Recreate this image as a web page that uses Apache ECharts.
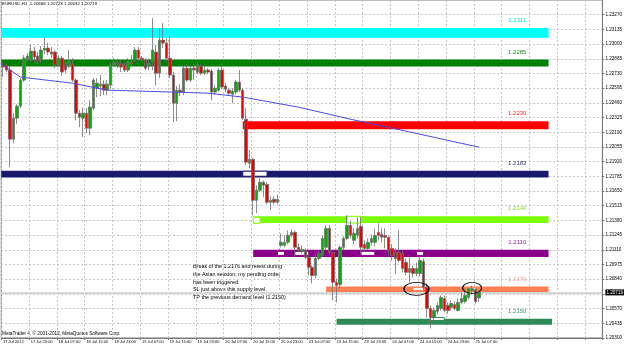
<!DOCTYPE html>
<html>
<head>
<meta charset="utf-8">
<title>EURUSD,H1</title>
<script src="https://cdn.jsdelivr.net/npm/echarts@6/dist/echarts.min.js"></script>
<style>
html, body { margin: 0; padding: 0; background: #fff; }
#chart { width: 625px; height: 345px; }
</style>
</head>
<body>
<div id="chart"></div>
<script>
const symbolName = 'EURUSD,H1'
const timeLabels = ['17 Jul 2012', '17 Jul 23:00', '18 Jul 07:00', '18 Jul 15:00', '18 Jul 23:00',
    '19 Jul 07:00', '19 Jul 15:00', '19 Jul 23:00', '20 Jul 07:00', '20 Jul 15:00', '20 Jul 23:00',
    '23 Jul 07:00', '23 Jul 15:00', '23 Jul 23:00', '24 Jul 07:00', '24 Jul 15:00', '24 Jul 23:00',
    '25 Jul 07:00']
const barsPerLabel = 8
const slotCount = 173

// H1 bars: [open, close, low, high]
const candles = [
    [1.22798, 1.22789, 1.22697, 1.22835], [1.22807, 1.22761, 1.22743, 1.22825], [1.22761, 1.22126, 1.21869, 1.22798], [1.22126, 1.22319, 1.22089, 1.22365],
    [1.22319, 1.22430, 1.22264, 1.22448], [1.22430, 1.22669, 1.22411, 1.22687], [1.22669, 1.22871, 1.22651, 1.22899], [1.22853, 1.22890, 1.22835, 1.22917],
    [1.22853, 1.22936, 1.22835, 1.22991], [1.22936, 1.22881, 1.22835, 1.22973], [1.22890, 1.22835, 1.22816, 1.22927], [1.22853, 1.22945, 1.22825, 1.22982],
    [1.22945, 1.22963, 1.22908, 1.23055], [1.22963, 1.22927, 1.22899, 1.23009], [1.22927, 1.22908, 1.22871, 1.22973], [1.22927, 1.22807, 1.22779, 1.22945],
    [1.22807, 1.22871, 1.22789, 1.22899], [1.22871, 1.22743, 1.22706, 1.22890], [1.22825, 1.22761, 1.22733, 1.22853], [1.22798, 1.22844, 1.22779, 1.22945],
    [1.22816, 1.22669, 1.22651, 1.22871], [1.22669, 1.22365, 1.22301, 1.22687], [1.22365, 1.22329, 1.22237, 1.22393], [1.22319, 1.22365, 1.22145, 1.22421],
    [1.22365, 1.22227, 1.22181, 1.22411], [1.22227, 1.22421, 1.22163, 1.22485], [1.22411, 1.22669, 1.22393, 1.22687], [1.22595, 1.22641, 1.22513, 1.22687],
    [1.22614, 1.22632, 1.22522, 1.22715], [1.22632, 1.22577, 1.22531, 1.22669], [1.22577, 1.22632, 1.22531, 1.22669], [1.22623, 1.22807, 1.22595, 1.22835],
    [1.22807, 1.22835, 1.22789, 1.22871], [1.22835, 1.22807, 1.22779, 1.22862], [1.22816, 1.22789, 1.22743, 1.22853], [1.22807, 1.22761, 1.22743, 1.22835],
    [1.22761, 1.22835, 1.22743, 1.22871], [1.22835, 1.22816, 1.22798, 1.22899], [1.22853, 1.22945, 1.22835, 1.22973], [1.22945, 1.22871, 1.22844, 1.22973],
    [1.22871, 1.22853, 1.22835, 1.22890], [1.22853, 1.22779, 1.22761, 1.22871], [1.22798, 1.22825, 1.22761, 1.22871], [1.22835, 1.22945, 1.22761, 1.23239],
    [1.22927, 1.22733, 1.22623, 1.22991], [1.22733, 1.23037, 1.22687, 1.23147], [1.23037, 1.23009, 1.22963, 1.23193], [1.23009, 1.22871, 1.22835, 1.23055],
    [1.22871, 1.22715, 1.22687, 1.23074], [1.22715, 1.22457, 1.22283, 1.22743], [1.22457, 1.22577, 1.22292, 1.22614], [1.22577, 1.22559, 1.22522, 1.22632],
    [1.22559, 1.22779, 1.22531, 1.22798], [1.22779, 1.22669, 1.22651, 1.22816], [1.22669, 1.22779, 1.22651, 1.22798], [1.22779, 1.22761, 1.22669, 1.22816],
    [1.22743, 1.22807, 1.22724, 1.22835], [1.22798, 1.22733, 1.22715, 1.22816], [1.22733, 1.22761, 1.22715, 1.22798], [1.22761, 1.22743, 1.22724, 1.22779],
    [1.22752, 1.22559, 1.22485, 1.22770], [1.22559, 1.22595, 1.22531, 1.22623], [1.22577, 1.22761, 1.22559, 1.22779], [1.22761, 1.22605, 1.22586, 1.22825],
    [1.22614, 1.22586, 1.22559, 1.22641], [1.22577, 1.22549, 1.22531, 1.22595], [1.22540, 1.22568, 1.22457, 1.22595], [1.22559, 1.22651, 1.22540, 1.22669],
    [1.22651, 1.22577, 1.22559, 1.22761], [1.22577, 1.22319, 1.22301, 1.22595], [1.22310, 1.21915, 1.21887, 1.22411], [1.21905, 1.21942, 1.21859, 1.22025],
    [1.21942, 1.21565, 1.21427, 1.21951], [1.21565, 1.21657, 1.21445, 1.21703], [1.21657, 1.21731, 1.21639, 1.21767], [1.21731, 1.21703, 1.21593, 1.21749],
    [1.21712, 1.21547, 1.21528, 1.21731], [1.21547, 1.21565, 1.21473, 1.21602], [1.21574, 1.21547, 1.21528, 1.21602], [1.21547, 1.21574, 1.21528, 1.21620],
    [1.21151, 1.21179, 1.21133, 1.21261], [1.21151, 1.21179, 1.21133, 1.21243], [1.21179, 1.21243, 1.21160, 1.21289], [1.21243, 1.21271, 1.21225, 1.21298],
    [1.21271, 1.21133, 1.21041, 1.21289], [1.21133, 1.21114, 1.21087, 1.21169], [1.21096, 1.21114, 1.21077, 1.21151], [1.21105, 1.21041, 1.21022, 1.21123],
    [1.21041, 1.20949, 1.20875, 1.21059], [1.20949, 1.20875, 1.20801, 1.20967], [1.20875, 1.21031, 1.20847, 1.21077], [1.21031, 1.21077, 1.21013, 1.21105],
    [1.21059, 1.21215, 1.21041, 1.21243], [1.21133, 1.21307, 1.21114, 1.21335], [1.21307, 1.21087, 1.21059, 1.21335], [1.21087, 1.20811, 1.20645, 1.21087],
    [1.20811, 1.20783, 1.20627, 1.20847], [1.20792, 1.21133, 1.20755, 1.21151], [1.21133, 1.21215, 1.21105, 1.21234], [1.21215, 1.21335, 1.21197, 1.21427],
    [1.21335, 1.21243, 1.21215, 1.21381], [1.21197, 1.21261, 1.21160, 1.21307], [1.21243, 1.21307, 1.21215, 1.21409], [1.21326, 1.21133, 1.21077, 1.21409],
    [1.21160, 1.21123, 1.21087, 1.21197], [1.21123, 1.21179, 1.21105, 1.21215], [1.21179, 1.21215, 1.21151, 1.21252], [1.21179, 1.21243, 1.21142, 1.21307],
    [1.21271, 1.21243, 1.21197, 1.21353], [1.21252, 1.21225, 1.21179, 1.21307], [1.21243, 1.21225, 1.21123, 1.21307], [1.21225, 1.21105, 1.21050, 1.21243],
    [1.21123, 1.21059, 1.21013, 1.21160], [1.21087, 1.21031, 1.20893, 1.21123], [1.21087, 1.21013, 1.20995, 1.21289], [1.21077, 1.20939, 1.20903, 1.21105],
    [1.20995, 1.20903, 1.20875, 1.21031], [1.20903, 1.20939, 1.20811, 1.21041], [1.20939, 1.20893, 1.20857, 1.20967], [1.20893, 1.20939, 1.20866, 1.20995],
    [1.20893, 1.21013, 1.20866, 1.21059], [1.21004, 1.20765, 1.20737, 1.21031], [1.20765, 1.20571, 1.20489, 1.20801], [1.20571, 1.20489, 1.20387, 1.20599],
    [1.20489, 1.20553, 1.20461, 1.20581], [1.20544, 1.20599, 1.20516, 1.20627], [1.20571, 1.20673, 1.20553, 1.20691], [1.20663, 1.20553, 1.20535, 1.20691],
    [1.20599, 1.20553, 1.20525, 1.20627], [1.20581, 1.20617, 1.20553, 1.20645], [1.20608, 1.20571, 1.20553, 1.20636], [1.20553, 1.20627, 1.20544, 1.20663],
    [1.20627, 1.20663, 1.20608, 1.20719], [1.20636, 1.20691, 1.20617, 1.20755], [1.20673, 1.20755, 1.20654, 1.20765], [1.20737, 1.20755, 1.20700, 1.20783],
    [1.20746, 1.20636, 1.20617, 1.20755], [1.20668, 1.20719, 1.20632, 1.20723]
]

// moving average, read at the bars where its slope changes: [bar, value]
const maPoints = [[0, 1.22807], [5, 1.22697], [20, 1.22641], [30, 1.22577], [59, 1.22549],
    [69, 1.22513], [85, 1.22421], [100, 1.22310], [116, 1.22200], [137, 1.22053]]

// drawn zones
const levelNames = ['1.2311', '1.2285', '1.2230', '1.2183', '1.2140', '1.2110', '1.2176', '1.2150']
const levelTop = [1.23147, 1.22858, 1.22292, 1.21836, 1.21418, 1.21111, 1.20774, 1.20477]
const levelBottom = [1.23058, 1.22793, 1.22218, 1.21774, 1.21356, 1.21043, 1.20719, 1.20421]
const levelFrom = [null, null, 69, null, 72, 72, 93, 96]
const levelTo = [157, 157, 157, 157, 157, 157, 157, 158]
const labelBar = 148

// white marker boxes inside zones: [fromBar, toBar, top, bottom, zone]
const boxes = [
    [69, 76, 1.21832, 1.21786, 3],
    [72, 74, 1.21409, 1.21353, 4],
    [99, 103, 1.21418, 1.21356, 4],
    [79, 81, 1.21096, 1.21059, 5],
    [84, 88, 1.21096, 1.21059, 5],
    [103, 107, 1.21096, 1.21059, 5],
    [119, 121, 1.21096, 1.21059, 5],
    [118, 121, 1.20765, 1.20737, 6],
    [134, 136, 1.20765, 1.20737, 6],
    [123, 127, 1.20489, 1.20461, 7]
]

// circled retests: [bar, price]
const circles = [[119, 1.20751], [135, 1.20760]]

const noteLines = [
    'Break of the 1.2176 and retest during',
    'the Asian session, my pending order',
    'has been triggered.',
    'SL just above this supply level.',
    'TP the previous demand level (1.2150)'
]
const copyright = 'MetaTrader 4, © 2001-2012, MetaQuotes Software Corp.'

const FONT = 'Liberation Sans'
const zoneColors = ['#00ffff', '#008000', '#ff0000', '#191970', '#7cfc00', '#8b008b', '#ff7f50', '#2e8b57']
const zoneTextColors = ['#00e0e0', '#1c8c1c', '#ff2020', '#30308a', '#8ce020', '#9a189a', '#ffa07a', '#3c9a6a']
const circleSizes = [[25, 13], [19, 11]]

const fmt = v => v.toFixed(5)
const last = candles[candles.length - 1]

const chart = echarts.init(document.getElementById('chart'), null, { renderer: 'canvas' })

const zoneAreas = levelNames.map((name, i) => {
    const start = { yAxis: levelTop[i], itemStyle: { color: zoneColors[i] } }
    if (levelFrom[i] !== null) start.xAxis = levelFrom[i]
    return [start, { xAxis: levelTo[i], yAxis: levelBottom[i] }]
})
const boxAreas = boxes.map(([from, to, top, bottom, zone]) => [
    { xAxis: from, yAxis: top, itemStyle: { color: '#ffffff', borderColor: zoneColors[zone], borderWidth: 1 } },
    { xAxis: to, yAxis: bottom }
])

const zoneLabels = levelNames.map((name, i) => ({
    coord: [labelBar, levelTop[i]],
    symbol: 'rect',
    symbolSize: 1,
    itemStyle: { color: 'rgba(0,0,0,0)' },
    label: {
        show: true,
        position: 'top',
        distance: 4,
        formatter: name,
        color: zoneTextColors[i],
        fontSize: 6,
        fontFamily: FONT
    }
}))
const circleMarks = circles.map((c, i) => ({
    coord: c,
    symbol: 'circle',
    symbolSize: circleSizes[i],
    itemStyle: { color: 'rgba(0,0,0,0)', borderColor: '#000', borderWidth: 1 },
    label: { show: false }
}))

const option = {
    animation: false,
    backgroundColor: '#ffffff',
    textStyle: { fontFamily: FONT },
    title: {
        text: `${symbolName}  ${fmt(last[0])} ${fmt(last[3])} ${fmt(last[2])} ${fmt(last[1])}`,
        left: 2,
        top: 2,
        padding: 0,
        textStyle: { fontSize: 4.4, fontWeight: 'normal', color: '#000', fontFamily: FONT }
    },
    grid: {
        left: 0,
        right: 18,
        top: 0,
        bottom: 7,
        show: true,
        borderColor: '#777',
        borderWidth: 1
    },
    xAxis: {
        type: 'category',
        data: Array.from({ length: slotCount }, (_, i) => String(i)),
        boundaryGap: true,
        axisLine: { lineStyle: { color: '#777' } },
        axisTick: { show: true, interval: barsPerLabel - 1, length: 2, lineStyle: { color: '#777' } },
        axisLabel: {
            interval: barsPerLabel - 1,
            formatter: (v, i) => timeLabels[i / barsPerLabel] || '',
            align: 'left',
            fontSize: 4,
            color: '#000',
            margin: 2
        },
        splitLine: { show: true, interval: barsPerLabel - 1, lineStyle: { color: '#c4c4c4', type: [2, 2] } }
    },
    yAxis: {
        type: 'value',
        position: 'right',
        min: 1.203,
        max: 1.23405,
        interval: 0.00135,
        axisLine: { show: true, lineStyle: { color: '#777' } },
        axisTick: { show: true, length: 2, lineStyle: { color: '#777' } },
        axisLabel: {
            formatter: v => v.toFixed(5),
            fontSize: 4.6,
            color: '#000',
            margin: 3,
            showMaxLabel: false
        },
        splitLine: { show: true, lineStyle: { color: '#c4c4c4', type: [2, 2] } }
    },
    graphic: [
        {
            type: 'text', left: 2, top: 331,
            style: { text: copyright, fontSize: 4.7, fill: '#000', fontFamily: FONT }
        },
        {
            type: 'text', left: 193, top: 263,
            style: { text: noteLines.join('\n'), fontSize: 5.4, lineHeight: 7.7, fill: '#000', fontFamily: FONT }
        }
    ],
    series: [
        {
            name: symbolName,
            type: 'candlestick',
            data: candles,
            barWidth: 3,
            itemStyle: {
                color: '#00b000',
                color0: '#ee0000',
                borderColor: '#707070',
                borderColor0: '#707070',
                borderWidth: 0.8
            },
            markArea: {
                silent: true,
                label: { show: false },
                data: zoneAreas.concat(boxAreas)
            },
            markPoint: {
                silent: true,
                data: circleMarks.concat(zoneLabels)
            },
            markLine: {
                silent: true,
                z: 1,
                precision: 5,
                symbol: ['none', 'none'],
                lineStyle: { color: '#d6d6d6', width: 2, type: 'solid' },
                label: {
                    position: 'end',
                    distance: 3,
                    formatter: fmt(last[1]),
                    backgroundColor: '#000',
                    color: '#fff',
                    fontSize: 4.6,
                    padding: [1, 1, 0, 1]
                },
                data: [{ yAxis: last[1] }]
            }
        },
        {
            name: 'MA',
            type: 'line',
            data: maPoints,
            symbol: 'none',
            z: 3,
            lineStyle: { color: '#4b4be6', width: 1 }
        }
    ]
}

chart.setOption(option)
</script>
</body>
</html>
